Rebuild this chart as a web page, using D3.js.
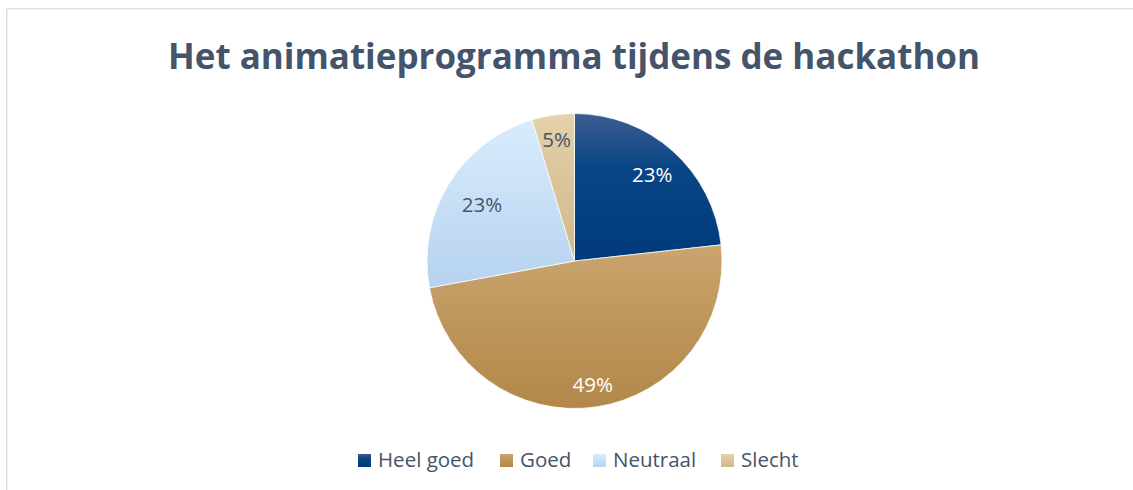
<!DOCTYPE html>
<html>
<head>
<meta charset="utf-8">
<script src="https://cdn.jsdelivr.net/npm/d3@7"></script>
<style>
  html, body { margin: 0; padding: 0; background: #ffffff; }
  svg { display: block; }
</style>
</head>
<body>
<svg id="chart" width="1133" height="490"></svg>
<script>
// chart data
var categories = ["Heel goed", "Goed", "Neutraal", "Slecht"];
var counts     = [10, 21, 10, 2];
var title      = "Het animatieprogramma tijdens de hackathon";

// gradient fills per slice (top -> bottom)
var fills = [
    ["#3d5e91", "#0a4585", "#003a7a"],
    ["#caa571", "#c09a5f", "#b3874a"],
    ["#d8ecfd", "#cde3f8", "#b5d2ee"],
    ["#e4d3ad", "#dcc79e", "#d0b98b"]
];
var labelColors = ["#ffffff", "#ffffff", "#44546a", "#44546a"];
var labelRadius = [0.79, 0.85, 0.735, 0.83];

var width = 1133, height = 490;
var cx = 574.5, cy = 261, radius = 147.5;
var textColor = "#44546a";
var font = "'Open Sans', 'Noto Sans', sans-serif";

var svg = d3.select("#chart");
var defs = svg.append("defs");

// chart frame
svg.append("path")
    .attr("d", "M6.75," + height + "V8.75H" + width)
    .attr("fill", "none")
    .attr("stroke", "#dde2e8")
    .attr("stroke-width", 1.5);

// title, fitted to the reference width
var titleText = svg.append("text")
    .attr("x", 574)
    .attr("y", 69)
    .attr("text-anchor", "middle")
    .style("font-family", font)
    .style("font-weight", "bold")
    .style("font-size", "36px")
    .attr("fill", textColor)
    .text(title);
var tw = titleText.node().getComputedTextLength();
if (Math.abs(tw - 812) > 40) {
    titleText.style("font-size", (36 * 812 / tw).toFixed(1) + "px");
} else {
    titleText.attr("textLength", 812).attr("lengthAdjust", "spacingAndGlyphs");
}

fills.forEach(function (f, i) {
    var g = defs.append("linearGradient")
        .attr("id", "grad" + i)
        .attr("x1", 0).attr("y1", 0)
        .attr("x2", 0).attr("y2", 1);
    g.append("stop").attr("offset", "0%").attr("stop-color", f[0]);
    g.append("stop").attr("offset", "35%").attr("stop-color", f[1]);
    g.append("stop").attr("offset", "100%").attr("stop-color", f[2]);
});

var total = d3.sum(counts);
var pie = d3.pie().sort(null).value(function (d) { return d; });
var arcs = pie(counts);
var arc = d3.arc().innerRadius(0).outerRadius(radius);

var pieG = svg.append("g").attr("transform", "translate(" + cx + "," + cy + ")");

pieG.selectAll("path.slice")
    .data(arcs)
    .enter()
    .append("path")
    .attr("class", "slice")
    .attr("d", arc)
    .attr("fill", function (d, i) { return "url(#grad" + i + ")"; })
    .attr("stroke", "#ffffff")
    .attr("stroke-width", 0.75);

pieG.selectAll("text.lbl")
    .data(arcs)
    .enter()
    .append("text")
    .attr("class", "lbl")
    .attr("transform", function (d, i) {
        var r = radius * labelRadius[i];
        var c = d3.arc().innerRadius(r).outerRadius(r).centroid(d);
        return "translate(" + c[0] + "," + c[1] + ")";
    })
    .attr("text-anchor", "middle")
    .attr("dy", "0.36em")
    .style("font-family", font)
    .style("font-size", "20.5px")
    .attr("fill", function (d, i) { return labelColors[i]; })
    .text(function (d) { return Math.round(d.value / total * 100) + "%"; });

// legend
var legendX = [358, 500, 593, 721];
var items = svg.append("g")
    .selectAll("g.item")
    .data(categories)
    .enter()
    .append("g")
    .attr("class", "item")
    .attr("transform", function (d, i) { return "translate(" + legendX[i] + ",454)"; });

items.append("rect")
    .attr("width", 13)
    .attr("height", 13)
    .attr("fill", function (d, i) { return "url(#grad" + i + ")"; });

items.append("text")
    .attr("x", 20)
    .attr("y", 13)
    .style("font-family", font)
    .style("font-size", "20.5px")
    .attr("fill", textColor)
    .text(function (d) { return d; });
</script>
</body>
</html>
